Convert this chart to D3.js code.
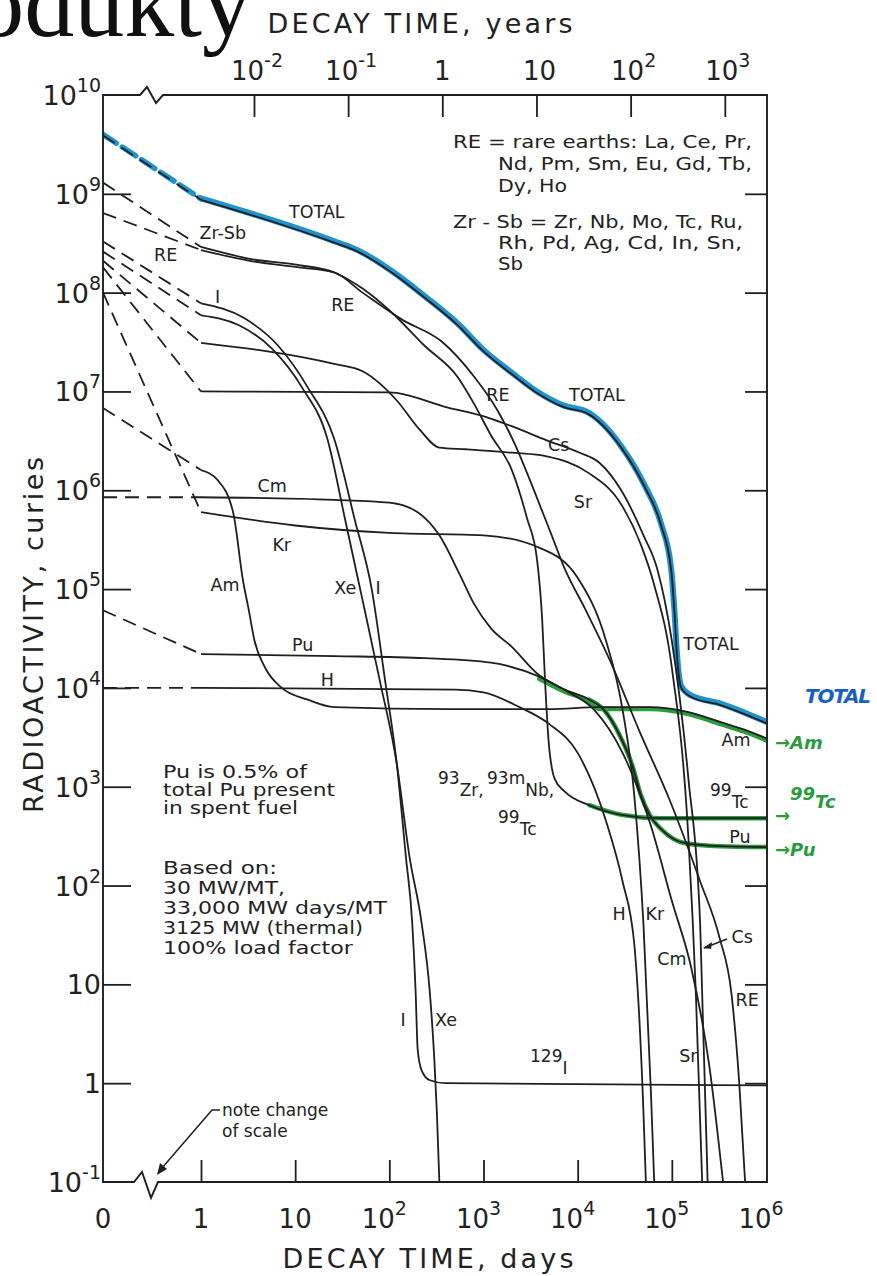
<!DOCTYPE html>
<html>
<head>
<meta charset="utf-8">
<title>Fission product radioactivity vs decay time</title>
<script src="https://cdn.jsdelivr.net/npm/d3@7/dist/d3.min.js"></script>
<style>
  html, body { margin: 0; padding: 0; background: #fff; }
  svg { display: block; }
  text { font-family: "DejaVu Sans", "Noto Sans", sans-serif; fill: #222; }
</style>
</head>
<body>
<svg id="chart" width="877" height="1276"></svg>
<script>
// ---------- axis ticks ----------
const dayTicks   = [1, 10, 1e2, 1e3, 1e4, 1e5, 1e6];
const yearTicks  = [1e-2, 1e-1, 1, 10, 1e2, 1e3];
const curieTicks = [1e-1, 1, 10, 1e2, 1e3, 1e4, 1e5, 1e6, 1e7, 1e8, 1e9, 1e10];

// ---------- activity in curies vs decay time in days ----------
// value at discharge (t = 0), joined to the first curve point by a dashed line
const totalAtZero = 3.9e9;
const totalCurve = [[1,8.7e8],[26,3.2e8],[46,2.6e8],[106,1.6e8],[237,8.9e7],[531,4.7e7],[1020,2.5e7],[1990,1.5e7],[3730,9.6e6],[7250,6.9e6],[12600,6.0e6],[29000,2.7e6],[51000,1.1e6],[77000,4.4e5],[98000,1.6e5],[106000,6.4e4],[114000,2.0e4],[126000,1.0e4],[160000,8.1e3],[330000,6.7e3],[630000,5.3e3],[1e6,4.4e3]];

const zrSbAtZero = 1.3e9;
const zrSbCurve = [[1,2.9e8],[3.3,2.2e8],[11,1.9e8],[26,1.6e8],[52,1.1e8],[106,6.3e7],[237,2.9e7],[531,1.4e7],[800,7.4e6],[1200,3.6e6],[2000,1.6e6],[2900,5.2e5],[3700,2.0e5],[4200,4.9e4],[4500,1.2e4],[4900,3.0e3],[5700,1.2e3],[7300,890],[13300,650],[29000,520],[74000,480],[1e6,480]];

const reAtZero = 6.4e8;
const reCurve = [[1,2.7e8],[3.3,2.1e8],[11,1.8e8],[26,1.6e8],[52,1.0e8],[138,5.3e7],[360,3.2e7],[800,1.4e7],[1400,6.5e6],[2200,2.8e6],[3300,1.1e6],[5300,3.5e5],[7300,1.6e5],[12000,6.3e4],[22000,1.9e4],[45000,3.7e3],[95000,730],[200000,110],[320000,30],[430000,8],[520000,1],[600000,0.1]];

const iAtZero = 3.3e8;
const iCurve = [[1,7.8e7],[2.9,5.5e7],[6.6,2.9e7],[13.6,1.1e7],[26,3.3e6],[43,5e5],[65,1e5],[90,1.2e4],[120,1.7e3],[150,194],[175,42],[190,8.7],[200,2.2],[220,1.35],[270,1.07],[390,1.0],[1e6,0.95]];

const xeAtZero = 2.6e8;
const xeCurve = [[1,5.9e7],[2.5,4.7e7],[5.7,2.7e7],[11.8,1.1e7],[22,3.3e6],[34,5e5],[49,1e5],[79,1.2e4],[120,1.7e3],[164,194],[220,42],[268,8.7],[300,1.8],[320,0.5],[340,0.1]];

const srAtZero = 2.1e8;
const srCurve = [[1,3.1e7],[26,1.9e7],[52,1.6e7],[120,8.1e6],[210,4.1e6],[340,2.7e6],[650,2.6e6],[2000,2.4e6],[4700,2.2e6],[13000,1.5e6],[29000,7.2e5],[47000,2.8e5],[65000,1.1e5],[100000,1.6e4],[150000,300],[180000,8],[210000,0.1]];

const csAtZero = 1.8e8;
const csCurve = [[1,1.0e7],[100,9.8e6],[410,6.9e6],[1070,5.5e6],[2050,4.4e6],[4700,3.2e6],[10500,2.4e6],[17000,1.9e6],[29000,1.0e6],[50000,3.5e5],[70000,1.6e5],[100000,3e4],[150000,1.2e3],[200000,40],[240000,0.1]];

const krAtZero = 1.0e8;
const krCurve = [[1,6e5],[10,4.4e5],[100,3.7e5],[1000,3.5e5],[4000,2.6e5],[10000,1.3e5],[20000,3e4],[30000,6e3],[40000,800],[50000,40],[60000,0.8],[65000,0.1]];

const cmAtZero = 8.5e5;
const cmCurve = [[1,8.5e5],[26,8e5],[100,7.5e5],[200,6e5],[340,3.5e5],[560,1.4e5],[800,7e4],[1200,4e4],[2000,2.6e4],[3700,1.4e4],[7300,9.5e3],[15000,6e3],[30000,2.2e3],[60000,400],[100000,70],[160000,15],[250000,1.5],[350000,0.1]];

const amAtZero = 6.8e6;
const amCurve = [[1,1.6e6],[1.5,1.27e6],[2.2,5.9e5],[2.8,1.2e5],[3.2,6.3e4],[3.7,3e4],[4.8,1.6e4],[7.2,1.0e4],[13.6,7.6e3],[26,6.4e3],[435,6.1e3],[5000,6.1e3],[17000,6.4e3],[58000,6.4e3],[150000,5.7e3],[330000,4.5e3],[630000,3.7e3],[1e6,3.1e3]];

const puAtZero = 6.1e4;
const puCurve = [[1,2.2e4],[26,2.1e4],[240,2.0e4],[1200,1.8e4],[3900,1.3e4],[7300,9.6e3],[13300,7.6e3],[19000,6e3],[28000,3.3e3],[38000,1.65e3],[47000,820],[58000,520],[80000,360],[135000,270],[320000,250],[1e6,245]];

const hAtZero = 1.0e4;
const hCurve = [[1,1.0e4],[500,9.6e3],[1000,9.0e3],[2400,6.4e3],[5000,4.3e3],[10000,2.2e3],[20000,450],[30000,110],[40000,25],[50000,0.5],[53000,0.1]];

// curve labels, anchored at (days, curies)
const curveLabels = [
  ["TOTAL", 17, 6.5e8], ["Zr-Sb", 1.7, 4.0e8], ["RE", 0.64, 2.4e8], ["I", 1.5, 9e7],
  ["RE", 32, 7.5e7], ["RE", 1425, 9.2e6], ["TOTAL", 1.6e4, 9.2e6], ["Cs", 6300, 2.9e6],
  ["Sr", 1.14e4, 7.6e5], ["Cm", 5.7, 1.1e6], ["Kr", 7.2, 2.8e5], ["Am", 1.8, 1.1e5],
  ["Xe", 34, 1.02e5], ["I", 76, 1.02e5], ["Pu", 12, 2.7e4], ["H", 22, 1.2e4],
  ["TOTAL", 2.6e5, 2.8e4], ["Am", 4.8e5, 2.95e3], ["Pu", 5.3e5, 3.1e2],
  ["H", 2.75e4, 52], ["Kr", 6.6e4, 52], ["Cs", 5.6e5, 30], ["Cm", 1.0e5, 18],
  ["RE", 6.3e5, 6.9], ["Sr", 1.5e5, 1.9], ["I", 140, 4.4], ["Xe", 400, 4.4]
];

// ---------- scales ----------
const svg = d3.select("#chart");
const y = d3.scaleLog().domain([0.1, 1e10]).range([1182, 95]);
const xLog = d3.scaleLog().domain([1, 1e6]).range([201, 766]);
const xZero = d3.scaleLinear().domain([0, 1]).range([103, 201]);   // 0..1 day, past the scale break
const xYears = d3.scaleLog().domain([1 / 365.25, 1e6 / 365.25]).range([201, 766]);
const X = t => (t < 1 ? xZero(t) : xLog(t));

const ink = "#1f1f1f";
const blue = "#1f93cf";
const green = "#2a9c3e";

svg.append("defs").append("clipPath").attr("id", "plot")
  .append("rect").attr("x", 103).attr("y", 95).attr("width", 664).attr("height", 1087);

const smooth = d3.line().x(d => X(d[0])).y(d => y(d[1])).curve(d3.curveMonotoneX);
const straight = d3.line().x(d => X(d[0])).y(d => y(d[1]));

const series = [
  { atZero: totalAtZero, curve: totalCurve },
  { atZero: zrSbAtZero, curve: zrSbCurve },
  { atZero: reAtZero, curve: reCurve },
  { atZero: iAtZero, curve: iCurve },
  { atZero: xeAtZero, curve: xeCurve },
  { atZero: srAtZero, curve: srCurve },
  { atZero: csAtZero, curve: csCurve },
  { atZero: krAtZero, curve: krCurve },
  { atZero: cmAtZero, curve: cmCurve },
  { atZero: amAtZero, curve: amCurve },
  { atZero: puAtZero, curve: puCurve },
  { atZero: hAtZero, curve: hCurve }
];

const plot = svg.append("g").attr("clip-path", "url(#plot)");

// hand-drawn highlights sit under the printed lines
const hl = plot.append("g").attr("fill", "none").attr("stroke-linecap", "round").attr("stroke-linejoin", "round");
hl.append("path")
  .attr("d", straight([[0, totalAtZero], totalCurve[0]]))
  .attr("stroke", blue).attr("stroke-width", 5.5).attr("stroke-dasharray", "16 7")
  .attr("transform", "translate(0,-1)");
hl.append("path").attr("d", smooth(totalCurve))
  .attr("stroke", blue).attr("stroke-width", 6).attr("transform", "translate(0,-1.5)");
const amMark = puCurve.filter(d => d[0] >= 2400 && d[0] <= 13300).concat(amCurve.filter(d => d[0] >= 17000));
hl.append("path").attr("d", smooth(amMark)).attr("stroke", green).attr("stroke-width", 4.5).attr("transform", "translate(0,2)");
hl.append("path").attr("d", smooth(puCurve.filter(d => d[0] >= 13300))).attr("stroke", green).attr("stroke-width", 4.5);
hl.append("path").attr("d", smooth(zrSbCurve.filter(d => d[0] >= 13300))).attr("stroke", green).attr("stroke-width", 4.5);

// printed curves
const curves = plot.append("g").attr("fill", "none").attr("stroke", ink).attr("stroke-width", 1.8);
series.forEach(s => {
  curves.append("path").attr("d", straight([[0, s.atZero], s.curve[0]])).attr("stroke-dasharray", "14 8");
  curves.append("path").attr("d", smooth(s.curve));
});

// ---------- axes ----------
const axes = svg.append("g");
const tickStyle = g => {
  g.select(".domain").remove();
  g.selectAll(".tick line").attr("stroke", ink).attr("stroke-width", 1.8);
  g.selectAll(".tick text").remove();
};
axes.append("g").attr("transform", "translate(103,0)")
  .call(d3.axisLeft(y).tickValues(curieTicks.slice(1, -1)).tickSize(-28)).call(tickStyle);
axes.append("g").attr("transform", "translate(767,0)")
  .call(d3.axisRight(y).tickValues(curieTicks.slice(1, -1)).tickSize(-22)).call(tickStyle);
axes.append("g").attr("transform", "translate(0,1182)")
  .call(d3.axisBottom(xLog).tickValues(dayTicks.slice(0, -1)).tickSize(-22)).call(tickStyle);
axes.append("g").attr("transform", "translate(0,95)")
  .call(d3.axisTop(xYears).tickValues(yearTicks).tickSize(-22)).call(tickStyle);

// frame with scale-break marks on top and bottom edges
axes.append("path")
  .attr("d", "M103,95 H140 L147,87 L156,103 L163,95 H767 V1182 H158 L151,1198 L142,1172 L134,1182 H103 Z")
  .attr("fill", "none").attr("stroke", ink).attr("stroke-width", 1.9).attr("stroke-linejoin", "miter");

// power-of-ten labels
const expOf = v => Math.round(Math.log10(v));
function powerLabel(sel, v, supSize, supRise) {
  const e = expOf(v);
  if (e === 0) { sel.text("1"); return; }
  if (e === 1) { sel.text("10"); return; }
  sel.append("tspan").text("10");
  sel.append("tspan").attr("font-size", supSize).attr("dy", -supRise).text(String(e));
}
curieTicks.forEach(v => {
  const t = axes.append("text").attr("x", 101).attr("y", y(v) + 10)
    .attr("text-anchor", "end").attr("font-size", 27);
  powerLabel(t, v, 19, 13);
});
axes.append("text").attr("x", X(0)).attr("y", 1228).attr("text-anchor", "middle").attr("font-size", 26).text("0");
dayTicks.forEach(v => {
  const e = expOf(v);
  const t = axes.append("text").attr("x", xLog(v) + (e > 1 ? -5 : 0)).attr("y", 1228)
    .attr("text-anchor", "middle").attr("font-size", 26);
  powerLabel(t, v, 19, 13);
});
yearTicks.forEach(v => {
  const e = expOf(v);
  const t = axes.append("text").attr("x", xYears(v) + (e === 0 ? 0 : 3)).attr("y", 80)
    .attr("text-anchor", "middle").attr("font-size", 26);
  powerLabel(t, v, 19, 13);
});

// axis titles
axes.append("text").attr("x", 428).attr("y", 1268).attr("text-anchor", "middle")
  .attr("font-size", 27).attr("textLength", 291).text("DECAY TIME, days");
axes.append("text").attr("x", 420).attr("y", 33).attr("text-anchor", "middle")
  .attr("font-size", 27).attr("textLength", 305).text("DECAY TIME, years");
axes.append("text").attr("transform", "translate(43,635) rotate(-90)").attr("text-anchor", "middle")
  .attr("font-size", 27).attr("textLength", 356).text("RADIOACTIVITY, curies");

// heading fragment at the top-left edge
svg.append("text").attr("x", 252).attr("y", 36).attr("text-anchor", "end")
  .attr("font-size", 100).style("font-family", "'Liberation Serif', serif").style("fill", "#111").text("Produkty");

// ---------- curve labels ----------
const lab = svg.append("g").attr("font-size", 17.5).attr("text-anchor", "middle");
curveLabels.forEach(([txt, t, c]) => {
  lab.append("text").attr("x", X(t)).attr("y", y(c) + 6).text(txt);
});

// isotope labels with mass numbers
function isotope(xp, yp, mass, sym, extra) {
  const t = svg.append("text").attr("x", xp).attr("y", yp).attr("font-size", 17);
  t.append("tspan").text(mass);
  t.append("tspan").attr("dy", 12).text(sym + (extra || ""));
  return t;
}
isotope(438, 784, "93", "Zr", ",");
isotope(487, 784, "93m", "Nb", ",");
isotope(498, 823, "99", "Tc");
isotope(710, 796, "99", "Tc");
isotope(530, 1062, "129", "I");

// Cs pointer at lower right
svg.append("path").attr("d", "M727,939 L704,948").attr("stroke", ink).attr("stroke-width", 1.4).attr("fill", "none");
svg.append("path").attr("d", "M703,948 l9,-6 l-1,7 z").attr("fill", ink);

// ---------- notes ----------
const noteRE = [
  ["RE = rare earths: La, Ce, Pr,", 453, 148, 299],
  ["Nd, Pm, Sm, Eu, Gd, Tb,", 498, 170, 254],
  ["Dy, Ho", 498, 192, 69],
  ["Zr - Sb = Zr, Nb, Mo, Tc, Ru,", 453, 228, 290],
  ["Rh, Pd, Ag, Cd, In, Sn,", 498, 249, 244],
  ["Sb", 498, 270, 25]
];
const noteBasis = [
  ["Pu is 0.5% of", 163, 778, 144],
  ["total Pu present", 163, 796, 172],
  ["in spent fuel", 163, 814, 135],
  ["Based on:", 163, 874, 114],
  ["30 MW/MT,", 163, 894, 122],
  ["33,000 MW days/MT", 163, 914, 224],
  ["3125 MW (thermal)", 163, 934, 200],
  ["100% load factor", 163, 954, 190]
];
noteRE.concat(noteBasis).forEach(([txt, xp, yp, w]) => {
  svg.append("text").attr("x", xp).attr("y", yp).attr("font-size", 17.5)
    .attr("textLength", w).attr("lengthAdjust", "spacingAndGlyphs").text(txt);
});

// change-of-scale pointer
svg.append("text").attr("x", 222).attr("y", 1116).attr("font-size", 17).text("note change");
svg.append("text").attr("x", 222).attr("y", 1137).attr("font-size", 17).text("of scale");
svg.append("path").attr("d", "M220,1110 H212 L162,1168").attr("fill", "none").attr("stroke", ink).attr("stroke-width", 1.5);
svg.append("path").attr("d", "M157,1175 l3,-12 l7,6 z").attr("fill", ink);

// ---------- handwritten margin notes ----------
const hand = svg.append("g").style("font-style", "italic").style("font-weight", "bold");
hand.append("text").attr("x", 805).attr("y", 703).attr("font-size", 20).attr("textLength", 66)
  .style("fill", "#1a5fc4").text("TOTAL");
hand.append("text").attr("x", 775).attr("y", 749).attr("font-size", 18).style("fill", green).text("\u2192Am");
const tc = hand.append("text").attr("x", 790).attr("y", 800).attr("font-size", 18).style("fill", green);
tc.append("tspan").text("99");
tc.append("tspan").attr("dy", 8).text("Tc");
hand.append("text").attr("x", 775).attr("y", 822).attr("font-size", 18).style("fill", green).text("\u2192");
hand.append("text").attr("x", 775).attr("y", 856).attr("font-size", 18).style("fill", green).text("\u2192Pu");
</script>
</body>
</html>
